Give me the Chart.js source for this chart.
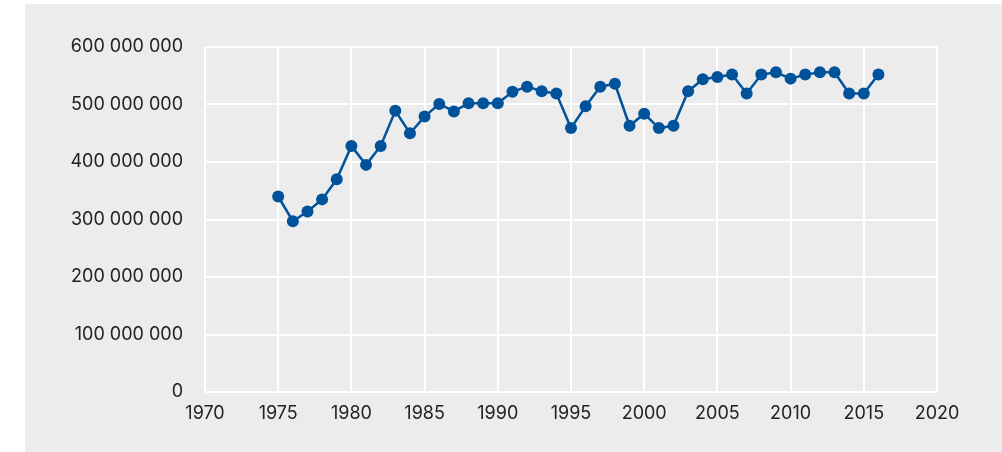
<!DOCTYPE html>
<html>
<head>
<meta charset="utf-8">
<script src="https://cdn.jsdelivr.net/npm/chart.js@4/dist/chart.umd.min.js"></script>
<style>
  html, body { margin: 0; padding: 0; background: #ffffff; }
  #panel { position: absolute; left: 25px; top: 4px; width: 977px; height: 448px; background: #ececec; }
</style>
</head>
<body>
<div id="panel"><canvas id="grafico" width="977" height="448"></canvas></div>
<script>
var years = [1975, 1976, 1977, 1978, 1979, 1980, 1981, 1982, 1983, 1984,
             1985, 1986, 1987, 1988, 1989, 1990, 1991, 1992, 1993, 1994,
             1995, 1996, 1997, 1998, 1999, 2000, 2001, 2002, 2003, 2004,
             2005, 2006, 2007, 2008, 2009, 2010, 2011, 2012, 2013, 2014,
             2015, 2016];
var values = [340, 297, 314, 335, 370, 428, 395, 428, 489, 450,
              479, 501, 488, 502, 502, 502, 522, 531, 523, 519,
              459, 497, 531, 536, 463, 484, 459, 463, 523, 544,
              548, 552, 519, 552, 556, 545, 552, 556, 556, 519,
              519, 552]; // millones
var yTicks = [0, 100000000, 200000000, 300000000, 400000000, 500000000, 600000000];
var xTicks = [1970, 1975, 1980, 1985, 1990, 1995, 2000, 2005, 2010, 2015, 2020];

var puntos = years.map(function (y, i) {
    return { x: y, y: values[i] * 1000000 };
});

function conEspacios(v) {
    return String(v).replace(/\B(?=(\d{3})+(?!\d))/g, ' ');
}

var ctx = document.getElementById('grafico').getContext('2d');
new Chart(ctx, {
    type: 'line',
    data: {
        datasets: [{
            data: puntos,
            borderColor: '#00539b',
            backgroundColor: '#00539b',
            borderWidth: 2.5,
            pointRadius: 6,
            pointBorderWidth: 0,
            tension: 0
        }]
    },
    options: {
        responsive: false,
        animation: false,
        layout: { padding: { top: 43, right: 65, left: 0, bottom: 0 } },
        plugins: { legend: { display: false }, tooltip: { enabled: false } },
        scales: {
            x: {
                type: 'linear',
                min: 1970,
                max: 2020,
                afterBuildTicks: function (scale) {
                    scale.ticks = xTicks.map(function (v) { return { value: v }; });
                },
                afterFit: function (scale) { scale.height = 60; },
                grid: { color: '#ffffff', lineWidth: 2, drawTicks: false },
                border: { display: false },
                ticks: {
                    padding: 11,
                    color: '#222222',
                    font: { family: 'Inter', size: 18 },
                    callback: function (v) { return String(v); }
                }
            },
            y: {
                min: 0,
                max: 600000000,
                afterBuildTicks: function (scale) {
                    scale.ticks = yTicks.map(function (v) { return { value: v }; });
                },
                afterFit: function (scale) { scale.width = 180; },
                grid: { color: '#ffffff', lineWidth: 2, drawTicks: false },
                border: { display: false },
                ticks: {
                    padding: 22,
                    color: '#222222',
                    font: { family: 'Inter', size: 18 },
                    callback: function (v) { return conEspacios(v); }
                }
            }
        }
    }
});
</script>
</body>
</html>
